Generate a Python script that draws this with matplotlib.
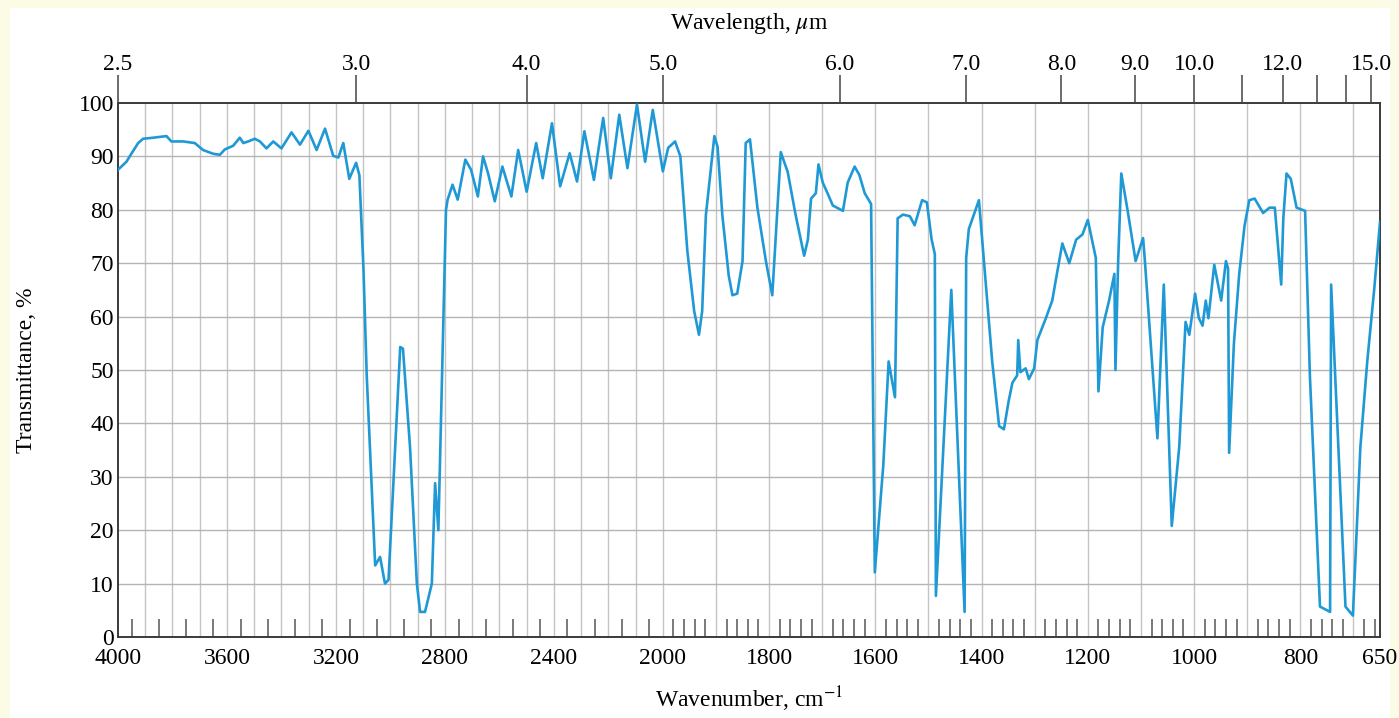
import numpy as np
import matplotlib
matplotlib.use('Agg')
import matplotlib.pyplot as plt
from matplotlib.patches import Rectangle

# IR spectrum (wavenumber cm-1, transmittance %)
wavenumber = [4000, 3969, 3951, 3926, 3908, 3871, 3822, 3804, 3761, 3718,
              3688, 3651, 3626, 3608, 3577, 3553, 3540, 3522, 3498, 3479,
              3455, 3430, 3400, 3363, 3332, 3301, 3271, 3240, 3210, 3191,
              3173, 3151, 3126, 3114, 3099, 3087, 3056, 3038, 3020, 3007,
              2989, 2964, 2954, 2928, 2903, 2891, 2873, 2848, 2836, 2824,
              2810, 2796, 2790, 2772, 2753, 2725, 2704, 2679, 2660, 2642,
              2617, 2589, 2556, 2531, 2500, 2465, 2441, 2407, 2377, 2342,
              2315, 2288, 2253, 2219, 2191, 2160, 2130, 2095, 2065, 2037,
              2000, 1990, 1977, 1967, 1954, 1941, 1932, 1926, 1919, 1903,
              1897, 1888, 1876, 1869, 1860, 1850, 1844, 1836, 1822, 1806,
              1794, 1787, 1778, 1765, 1750, 1734, 1727, 1721, 1712, 1707,
              1699, 1690, 1680, 1661, 1652, 1639, 1630, 1620, 1608, 1601,
              1585, 1575, 1563, 1558, 1548, 1535, 1526, 1512, 1503, 1494,
              1488, 1486, 1457, 1432, 1429, 1424, 1405, 1396, 1380, 1367,
              1358, 1349, 1342, 1333, 1331, 1327, 1317, 1311, 1301, 1295,
              1279, 1267, 1260, 1248, 1235, 1222, 1210, 1200, 1185, 1180,
              1172, 1160, 1150, 1148, 1143, 1137, 1125, 1110, 1096, 1093,
              1069, 1057, 1042, 1028, 1016, 1009, 998, 991, 984, 978,
              973, 962, 949, 940, 936, 934, 925, 915, 905, 896,
              886, 870, 858, 848, 836, 832, 826, 818, 807, 791,
              782, 763, 744, 742, 715, 701, 687, 674, 661, 650]
transmittance = [87.5, 89.0, 90.5, 92.5, 93.3, 93.5, 93.8, 92.8, 92.8, 92.5,
                 91.2, 90.5, 90.3, 91.3, 92.0, 93.5, 92.5, 92.8, 93.3, 92.8,
                 91.5, 92.8, 91.5, 94.5, 92.2, 94.8, 91.2, 95.2, 90.1, 89.8,
                 92.5, 85.8, 88.8, 86.5, 69.0, 49.0, 13.4, 15.0, 10.0, 10.7,
                 28.8, 54.3, 54.0, 35.5, 10.0, 4.7, 4.7, 10.0, 28.8, 20.0,
                 50.0, 80.0, 81.9, 84.7, 81.9, 89.4, 87.5, 82.5, 90.0, 86.9,
                 81.6, 88.1, 82.5, 91.2, 83.4, 92.5, 85.9, 96.2, 84.4, 90.6,
                 85.3, 94.7, 85.6, 97.2, 85.9, 97.8, 87.8, 99.7, 89.0, 98.7,
                 87.2, 91.6, 92.8, 90.0, 72.4, 61.0, 56.6, 61.0, 79.0, 93.8,
                 91.8, 79.0, 67.7, 64.0, 64.3, 70.4, 92.5, 93.2, 80.4, 70.4,
                 64.0, 75.7, 90.8, 87.1, 79.0, 71.4, 74.4, 82.1, 83.1, 88.5,
                 85.1, 83.1, 80.8, 79.8, 85.1, 88.1, 86.5, 83.1, 81.1, 12.1,
                 32.2, 51.6, 44.9, 78.4, 79.1, 78.8, 77.1, 81.8, 81.4, 74.4,
                 71.7, 7.7, 65.0, 4.7, 71.0, 76.4, 81.8, 71.0, 51.6, 39.5,
                 38.9, 44.2, 47.6, 49.0, 55.6, 49.6, 50.3, 48.3, 50.3, 55.6,
                 59.7, 63.0, 67.0, 73.7, 70.0, 74.4, 75.4, 78.1, 71.0, 46.0,
                 58.0, 63.0, 68.0, 50.0, 70.0, 86.8, 79.8, 70.4, 74.7, 71.0,
                 37.2, 66.0, 20.8, 35.5, 59.0, 56.6, 64.3, 59.7, 58.3, 63.0,
                 59.7, 69.7, 63.0, 70.4, 69.0, 34.5, 55.0, 68.0, 77.0, 81.8,
                 82.1, 79.4, 80.4, 80.4, 66.0, 78.4, 86.8, 85.8, 80.4, 79.8,
                 49.0, 5.7, 4.7, 66.0, 5.7, 4.0, 35.5, 51.6, 65.0, 77.7]

wn_labels = [4000, 3600, 3200, 2800, 2400, 2000, 1800, 1600, 1400, 1200, 1000, 800, 650]
wl_ticks = [2.5, 3.2, 4.0, 5.0, 6.0, 7.0, 8.0, 9.0, 10.0, 11.0, 12.0, 13.0, 14.0, 15.0]
wl_labels = ['2.5', '3.0', '4.0', '5.0', '6.0', '7.0', '8.0', '9.0', '10.0', '',
             '12.0', '', '', '15.0']

plt.rcParams['font.family'] = 'Liberation Serif'
plt.rcParams['mathtext.fontset'] = 'stix'

# chart scale doubles below 2000 cm-1
K = 1.95
def fwd(x):
    x = np.asarray(x, float)
    return np.where(x >= 2000, x, 2000 - K * (2000 - x))
def inv(y):
    y = np.asarray(y, float)
    return np.where(y >= 2000, y, 2000 - (2000 - y) / K)

fig = plt.figure(figsize=(13.99, 7.18), dpi=100, facecolor='#fcfbe6')
fig.patches.append(Rectangle((10/1399, 0), 1380/1399, 1 - 8/718, transform=fig.transFigure,
                             facecolor='white', edgecolor='none', zorder=-1))
ax = fig.add_axes([118/1399, 1 - 637/718, 1262/1399, 534/718])
ax.set_facecolor('white')
ax.set_xscale('function', functions=(fwd, inv))
ax.set_xlim(4000, 650)
ax.set_ylim(0, 100)

for w in range(3900, 650, -100):
    ax.axvline(w, color='#c4c4c4', lw=1.0, zorder=1)
for t in range(10, 100, 10):
    ax.axhline(t, color='#b4b4b4', lw=1.0, zorder=1)

ax.plot(wavenumber, transmittance, color='#1f99d5', lw=1.9, zorder=3,
        solid_joinstyle='round')

ax.set_xticks(wn_labels)
ax.set_xticklabels([str(w) for w in wn_labels])
minor = list(range(3950, 2000, -100)) + [w for w in range(1980, 650, -20) if w % 100 != 0]
ax.set_xticks(minor, minor=True)
ax.tick_params(axis='x', which='major', length=0, pad=8, labelsize=17)
ax.tick_params(axis='x', which='minor', direction='in', length=13, width=1.1, color='#555555')
ax.set_yticks(range(0, 101, 10))
ax.tick_params(axis='y', length=0, pad=3, labelsize=17)
for s in ax.spines.values():
    s.set_color('#3a3a3a')
    s.set_linewidth(1.4)

ax.set_xlabel(r'Wavenumber, cm$^{-1}$', fontsize=17, labelpad=11)
ax.set_ylabel('Transmittance, %', fontsize=17, labelpad=30)

ax2 = ax.twiny()
ax2.set_xscale('function', functions=(fwd, inv))
ax2.set_xlim(4000, 650)
ax2.set_xticks([1e4 / w for w in wl_ticks])
ax2.set_xticklabels(wl_labels)
ax2.xaxis.set_minor_locator(matplotlib.ticker.NullLocator())
ax2.tick_params(axis='x', direction='out', length=20, width=1.1, color='#444444',
                pad=0, labelsize=17)
ax2.set_xlabel(r'Wavelength, $\mu$m', fontsize=17, labelpad=18)
for s in ax2.spines.values():
    s.set_visible(False)

fig.savefig('out.png', dpi=100, facecolor=fig.get_facecolor())
